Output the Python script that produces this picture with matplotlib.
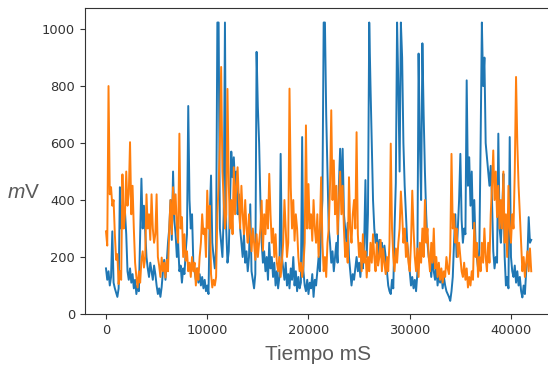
import matplotlib
matplotlib.use("Agg")
import matplotlib.pyplot as plt

# tiempo en ms, una muestra cada 125 ms (8 valores por segundo en cada fila)
tiempo = [i * 125 for i in range(337)]

canal_azul = [
    160, 120, 150, 100, 130, 290, 110, 90,
    75, 60, 90, 445, 300, 380, 310, 360,
    280, 150, 120, 160, 110, 140, 90, 120,
    70, 100, 80, 280, 475, 300, 380, 290,
    200, 160, 130, 180, 150, 120, 170, 140,
    100, 70, 90, 60, 95, 150, 190, 120,
    180, 250, 300, 400, 260, 500, 330, 280,
    200, 250, 150, 170, 110, 160, 140, 220,
    280, 730, 400, 300, 350, 180, 150, 120,
    160, 110, 140, 100, 130, 90, 120, 80,
    100, 70, 350, 486, 250, 200, 160, 230,
    1023, 1023, 300, 250, 200, 350, 1023, 300,
    180, 220, 400, 570, 480, 550, 450, 500,
    350, 420, 300, 250, 200, 280, 180, 220,
    150, 200, 385, 150, 120, 90, 140, 920,
    726, 600, 400, 250, 180, 220, 150, 200,
    120, 250, 160, 200, 130, 180, 100, 150,
    90, 130, 562, 200, 160, 120, 180, 100,
    140, 90, 160, 120, 200, 100, 150, 80,
    130, 90, 110, 621, 150, 100, 80, 120,
    70, 110, 90, 140, 60, 120, 100, 150,
    200, 150, 300, 400, 1023, 1023, 700, 500,
    300, 250, 180, 220, 150, 200, 250, 180,
    450, 580, 400, 580, 350, 300, 250, 320,
    200, 150, 100, 140, 120, 160, 200, 150,
    180, 130, 200, 160, 250, 470, 200, 350,
    1023, 800, 600, 400, 300, 250, 280, 200,
    260, 220, 250, 190, 240, 200, 150, 100,
    80, 70, 120, 90, 300, 460, 1023, 800,
    500, 1023, 900, 600, 450, 350, 250, 200,
    150, 100, 130, 90, 120, 80, 140, 914,
    600, 400, 950, 700, 500, 350, 250, 200,
    180, 130, 200, 150, 120, 170, 100, 140,
    110, 150, 90, 130, 100, 80, 70, 60,
    46, 80, 130, 250, 350, 200, 300, 400,
    562, 330, 250, 300, 280, 820, 450, 550,
    380, 500, 300, 400, 250, 200, 160, 230,
    600, 1023, 800, 900, 600, 550, 500, 450,
    520, 400, 220, 160, 200, 180, 633, 300,
    250, 350, 492, 200, 100, 130, 90, 621,
    200, 150, 130, 170, 110, 150, 100, 130,
    80, 58, 100, 70, 150, 200, 340, 250,
    260,
]

canal_naranja = [
    290, 240, 800, 420, 445, 380, 400, 280,
    190, 210, 105, 150, 120, 490, 300, 350,
    500, 380, 420, 603, 350, 450, 300, 180,
    130, 93, 150, 110, 187, 220, 163, 200,
    420, 300, 350, 260, 420, 300, 250, 280,
    420, 200, 170, 130, 198, 150, 180, 128,
    190, 150, 300, 400, 280, 445, 350, 420,
    300, 250, 633, 300, 340, 200, 280, 187,
    220, 150, 180, 130, 200, 150, 180, 100,
    160, 120, 200, 250, 350, 280, 300, 200,
    433, 300, 380, 140, 93, 120, 100, 130,
    350, 450, 600, 867, 500, 400, 300, 350,
    790, 456, 300, 400, 280, 515, 350, 450,
    515, 400, 300, 450, 350, 280, 400, 300,
    250, 350, 280, 220, 300, 250, 190, 280,
    200, 250, 300, 398, 222, 350, 280, 400,
    300, 492, 350, 250, 300, 200, 280, 180,
    150, 200, 130, 180, 250, 400, 300, 200,
    250, 791, 445, 300, 400, 257, 350, 300,
    200, 150, 180, 130, 170, 250, 662, 300,
    456, 300, 350, 257, 400, 300, 250, 350,
    200, 300, 480, 250, 150, 200, 130, 250,
    300, 450, 715, 400, 539, 350, 450, 280,
    400, 500, 350, 450, 300, 200, 250, 180,
    480, 300, 250, 350, 400, 300, 638, 280,
    200, 250, 150, 280, 180, 220, 128, 200,
    150, 250, 180, 280, 200, 150, 250, 170,
    200, 260, 150, 230, 180, 140, 200, 150,
    250, 598, 300, 200, 150, 230, 180, 250,
    300, 430, 350, 250, 300, 200, 250, 180,
    150, 250, 433, 300, 200, 150, 230, 130,
    250, 180, 300, 200, 400, 250, 300, 200,
    150, 250, 180, 300, 160, 200, 130, 180,
    120, 160, 110, 150, 130, 200, 160, 140,
    220, 562, 300, 350, 250, 300, 200, 250,
    200, 150, 130, 180, 120, 160, 93, 130,
    100, 150, 120, 320, 200, 250, 130, 200,
    150, 250, 180, 300, 200, 150, 250, 180,
    350, 450, 574, 400, 500, 340, 450, 300,
    400, 300, 500, 250, 350, 200, 450, 300,
    250, 350, 300, 500, 832, 600, 450, 350,
    250, 150, 200, 130, 180, 220, 150, 230,
    150,
]

plt.rcParams["mathtext.fontset"] = "custom"
plt.rcParams["mathtext.it"] = "Liberation Sans:italic"
plt.rcParams["mathtext.rm"] = "Liberation Sans"

fig = plt.figure(figsize=(5.48, 3.66), dpi=100)
ax = fig.add_axes([0.1546, 0.1421, 0.8536, 0.8361])

ax.plot(tiempo, canal_azul, color="#1f77b4", lw=1.4)
ax.plot(tiempo, canal_naranja, color="#ff7f0e", lw=1.4)

ax.set_xlim(-2100, 44100)
ax.set_ylim(0, 1074)
ax.set_xticks([0, 10000, 20000, 30000, 40000])
ax.set_yticks([0, 200, 400, 600, 800, 1000])
ax.tick_params(labelsize=9.4, colors="#333333")
for s in ax.spines.values():
    s.set_color("#333333")

gris = "#5a5a5a"
fig.text(24 / 548, 1 - 193 / 366, "$m$V", fontsize=15, color=gris,
         family="Liberation Sans", ha="center", va="center")
fig.text(318 / 548, 1 - 354 / 366, "Tiempo mS", fontsize=15, color=gris,
         family="Liberation Sans", ha="center", va="center")

fig.savefig("out.png", dpi=100)
